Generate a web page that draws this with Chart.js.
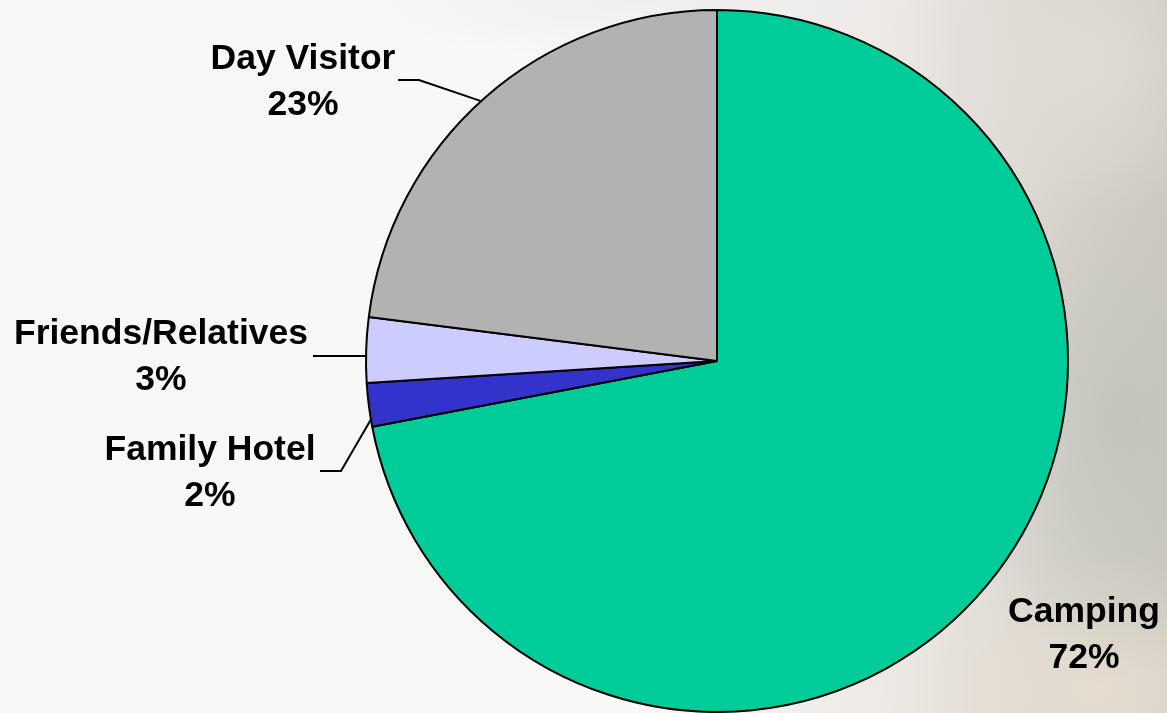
<!DOCTYPE html>
<html>
<head>
<meta charset="utf-8">
<title>Accommodation type</title>
<script src="https://cdn.jsdelivr.net/npm/chart.js@4.4.0/dist/chart.umd.min.js"></script>
<style>
  html, body { margin: 0; padding: 0; }
  body {
    width: 1167px;
    height: 713px;
    overflow: hidden;
    background:
      radial-gradient(ellipse 160px 260px at 1120px 420px, rgba(190, 194, 184, 0.75), rgba(190, 194, 184, 0) 100%),
      radial-gradient(ellipse 220px 140px at 1100px 690px, rgba(232, 222, 208, 0.9), rgba(232, 222, 208, 0) 100%),
      radial-gradient(ellipse 200px 160px at 1080px 60px, rgba(226, 222, 216, 0.8), rgba(226, 222, 216, 0) 100%),
      radial-gradient(ellipse 300px 60px at 640px 0px, rgba(232, 232, 232, 0.6), rgba(232, 232, 232, 0) 100%),
      linear-gradient(to right, #f7f7f7 0%, #f8f8f7 55%, #ebe8e4 78%, #d8d5cf 90%, #cdc9c2 100%);
  }
  #wrap { position: relative; width: 1167px; height: 713px; }
</style>
</head>
<body>
<div id="wrap"><canvas id="myChart" width="1167" height="713"></canvas></div>
<script>
const categories = ["Camping", "Family Hotel", "Friends/Relatives", "Day Visitor"]
const shares = [72, 2, 3, 23]
const sliceColors = ["#00CC99", "#3333CC", "#CCCCFF", "#B2B2B2"]

// label placement: centre x and first baseline of the text,
// leader = [startX, startY, elbowX, elbowY], t = where on the slice edge the leader ends
const labelSpots = [
  { x: 1084, y: 622, leader: null, t: 0.5 },
  { x: 210, y: 460, leader: [320, 471, 341, 471], t: 0.17 },
  { x: 161, y: 344, leader: [313, 356, 313, 356], t: 0.41 },
  { x: 303, y: 69, leader: [398, 80, 419, 80], t: 0.49 },
]

const labelFont = 'bold 35.5px "Liberation Sans", Arial, sans-serif'
const lineGap = 46

const pieLabels = {
  id: 'pieLabels',
  afterDatasetsDraw(chart) {
    const c = chart.ctx
    const arcs = chart.getDatasetMeta(0).data
    c.save()
    c.font = labelFont
    c.fillStyle = '#000'
    c.textAlign = 'center'
    c.textBaseline = 'alphabetic'
    c.strokeStyle = '#000'
    c.lineWidth = 2

    arcs.forEach((arc, i) => {
      const spot = labelSpots[i]
      const { x, y, startAngle, endAngle, outerRadius } = arc.getProps(['x', 'y', 'startAngle', 'endAngle', 'outerRadius'], true)

      if (spot.leader) {
        const a = startAngle + (endAngle - startAngle) * spot.t
        const ex = x + Math.cos(a) * outerRadius
        const ey = y + Math.sin(a) * outerRadius
        c.beginPath()
        c.moveTo(spot.leader[0], spot.leader[1])
        c.lineTo(spot.leader[2], spot.leader[3])
        c.lineTo(ex, ey)
        c.stroke()
      }

      c.fillText(categories[i], spot.x, spot.y)
      c.fillText(`${shares[i]}%`, spot.x, spot.y + lineGap)
    })
    c.restore()
  }
}

const data = {
  labels: categories,
  datasets: [
    {
      data: shares,
      backgroundColor: sliceColors,
      borderColor: '#000',
      borderWidth: 2,
      borderAlign: 'center',
    },
  ],
}

const options = {
  responsive: false,
  animation: false,
  radius: 351,
  layout: {
    padding: { left: 267, right: 0, top: 9, bottom: 0 }
  },
  plugins: {
    legend: { display: false },
    tooltip: { enabled: false },
  },
}

const myChart = new Chart(document.getElementById('myChart'), {
  type: 'pie',
  data: data,
  options: options,
  plugins: [pieLabels],
})
</script>
</body>
</html>
